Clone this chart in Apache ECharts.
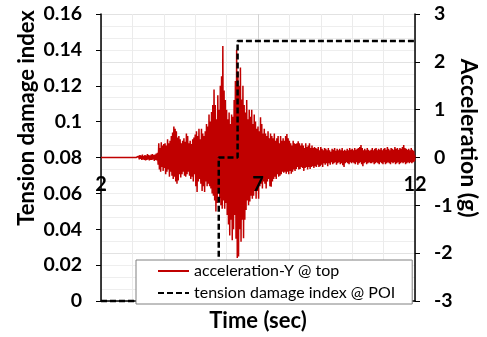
<!DOCTYPE html>
<html>
<head>
<meta charset="utf-8">
<script src="https://cdn.jsdelivr.net/npm/echarts@6/dist/echarts.min.js"></script>
<style>html,body{margin:0;padding:0;background:#fff;}#c{width:487px;height:337px;}</style>
</head>
<body>
<div id="c"></div>
<script>
// ---- data ----
const seriesNames = ['acceleration-Y @ top', 'tension damage index @ POI'];
const xTicks = [2, 7, 12];
const leftTicks = [0, 0.02, 0.04, 0.06, 0.08, 0.1, 0.12, 0.14, 0.16];
const rightTicks = [-3, -2, -1, 0, 1, 2, 3];
const accStart = 2;      // sec
const accStep = 0.02;    // sec between samples
const accel = [
0,0,0,0,0,0,0,0,0,0,
0,0,0,0,0,0,0,0,0,0,
0,0,0,0,0,0,0,0,0,0,
0,0,0,0,0,0,0,0,0,0,
0,0,0,0,0,0,0,0,0,0,
0,0,0,0,0,0,0,0,0,0,
.03,-.04,.05,-.03,.04,-.05,.06,-.04,.03,-.05,
.05,-.06,.04,-.05,.07,-.04,.05,-.06,.04,-.05,
.06,-.05,.07,-.04,.05,-.07,.06,-.05,.08,-.06,
.1,-.15,.3,-.25,.2,-.3,.32,-.2,.25,-.28,
.28,-.22,.3,-.35,.25,-.3,.38,-.25,.3,-.4,
.35,-.3,.45,-.38,.52,-.45,.65,-.4,.6,-.5,
.55,-.55,.42,-.48,.45,-.35,.38,-.42,.3,-.35,
.35,-.3,.4,-.38,.33,-.4,.5,-.35,.45,-.3,
.3,-.38,.35,-.45,.28,-.4,.38,-.5,.42,-.35,
.48,-.6,.55,-.72,.45,-.5,.6,-.45,.38,-.55,
.6,-.7,.5,-.6,.45,-.72,.55,-.5,.7,-.6,
.65,-.55,.9,-.6,.75,-.65,.95,-.75,1.1,-.8,
1.42,-.9,1.1,-1.13,.8,-.95,1.3,-.7,1.0,-.85,
1.5,-1.0,1.7,-1.07,2.33,-.9,1.4,-1.07,1.2,-.95,
1.0,-1.2,.8,-1.4,.94,-1.63,.7,-1.3,.9,-1.73,
.85,-1.5,1.2,-1.2,1.6,-1.7,2.25,-2.1,1.8,-2.07,
1.5,-1.5,1.88,-1.76,1.21,-1.3,1.5,-1.69,1.1,-1.3,
.94,-1.1,1.2,-.9,.8,-1.0,1.0,-.92,.85,-.8,
1.0,-.86,.7,-.8,.9,-.7,.75,-.86,.6,-.7,
.65,-.86,.55,-.6,.84,-.55,.7,-.65,.5,-.5,
.6,-.55,.5,-.65,.45,-.5,.55,-.45,.4,-.6,
.5,-.61,.45,-.5,.4,-.45,.5,-.4,.35,-.45,
.4,-.35,.45,-.4,.3,-.38,.45,-.35,.35,-.3,
.4,-.32,.35,-.3,.45,-.34,.49,-.3,.4,-.35,
.35,-.28,.3,-.34,.25,-.3,.35,-.25,.3,-.28,
.28,-.24,.3,-.2,.34,-.25,.3,-.24,.25,-.2,
.3,-.22,.25,-.28,.2,-.22,.3,-.2,.22,-.25,
.25,-.2,.3,-.24,.2,-.2,.25,-.18,.2,-.22,
.22,-.18,.2,-.2,.18,-.15,.22,-.2,.15,-.18,
.22,-.15,.18,-.2,.15,-.12,.2,-.15,.18,-.12,
.15,-.18,.2,-.12,.15,-.15,.12,-.1,.18,-.14,
.16,-.12,.2,-.1,.14,-.15,.18,-.12,.15,-.1,
.18,-.14,.15,-.12,.2,-.16,.14,-.2,.16,-.12,
.14,-.1,.18,-.12,.15,-.14,.2,-.1,.16,-.12,
.18,-.1,.15,-.12,.2,-.14,.16,-.1,.18,-.15,
.2,-.12,.22,-.1,.26,-.14,.2,-.18,.15,-.12,
.18,-.1,.15,-.14,.2,-.12,.16,-.1,.14,-.12,
.16,-.12,.2,-.1,.15,-.14,.18,-.12,.2,-.1,
.15,-.12,.18,-.14,.16,-.1,.2,-.12,.15,-.14,
.18,-.1,.2,-.14,.16,-.12,.22,-.1,.18,-.12,
.15,-.14,.2,-.1,.18,-.12,.16,-.1,.22,-.14,
.18,-.12,.2,-.1,.16,-.14,.2,-.12,.18,-.1,
.22,-.12,.26,-.1,.2,-.14,.18,-.12,.16,-.1,
.18,-.12,.15,-.1,.2,-.12,.16,-.1,.14,-.08,
.05
];
const damageT = [2, 5.75, 5.75, 6.35, 6.35, 12];
const damageV = [0, 0, 0.08, 0.08, 0.145, 0.145];

// ---- build ----
const accData = accel.map((v, i) => [+(accStart + i * accStep).toFixed(2), v]);
const dmgData = damageT.map((t, i) => [t, damageV[i]]);
const FONT = 'Lato';
const GRID = {left: 101, right: 72, top: 14, bottom: 34};
const plotH = 337 - GRID.top - GRID.bottom;
const zeroFrac = (0 - rightTicks[0]) / (rightTicks[rightTicks.length - 1] - rightTicks[0]);

const chart = echarts.init(document.getElementById('c'), null, {renderer: 'canvas'});
chart.setOption({
  animation: false,
  backgroundColor: '#fff',
  grid: Object.assign({containLabel: false}, GRID),
  legend: {
    orient: 'vertical', left: 136, top: 260,
    itemWidth: 31, itemHeight: 14, itemGap: 6,
    padding: [3, 17, 3, 21],
    borderColor: '#808080', borderWidth: 1, backgroundColor: '#fff',
    itemStyle: {opacity: 0},
    textStyle: {fontFamily: FONT, fontSize: 16, color: '#000'},
    data: seriesNames
  },
  xAxis: [{
    type: 'value', position: 'bottom',
    min: xTicks[0], max: xTicks[xTicks.length - 1], interval: xTicks[1] - xTicks[0],
    name: 'Time (sec)', nameLocation: 'middle', nameGap: 9,
    nameTextStyle: {fontFamily: FONT, fontWeight: 'bold', fontSize: 22, color: '#000'},
    axisLine: {show: true, onZero: false, lineStyle: {color: '#000', width: 1.5}},
    axisTick: {show: false}, axisLabel: {show: false},
    splitLine: {show: true, lineStyle: {color: '#d4d4d4', width: 1}},
    minorTick: {show: false, splitNumber: 5},
    minorSplitLine: {show: true, lineStyle: {color: '#ebebeb', width: 1}}
  }, {
    type: 'value', position: 'bottom', z: 10,
    offset: -plotH * zeroFrac,
    min: xTicks[0], max: xTicks[xTicks.length - 1], interval: xTicks[1] - xTicks[0],
    axisLine: {show: false, onZero: false},
    axisTick: {show: false},
    axisLabel: {show: true, margin: 18, fontFamily: FONT, fontWeight: 'bold', fontSize: 20, color: '#000'},
    splitLine: {show: false}
  }],
  yAxis: [{
    type: 'value', position: 'left',
    min: leftTicks[0], max: leftTicks[leftTicks.length - 1], interval: leftTicks[1] - leftTicks[0],
    axisLine: {show: true, lineStyle: {color: '#000', width: 1.5}},
    axisTick: {show: true, inside: false, length: 5, lineStyle: {color: '#000'}},
    axisLabel: {margin: 19, fontFamily: FONT, fontWeight: 'bold', fontSize: 19.5, color: '#000'},
    splitLine: {show: true, lineStyle: {color: '#d9d9d9', width: 1}}
  }, {
    type: 'value', position: 'right',
    min: rightTicks[0], max: rightTicks[rightTicks.length - 1], interval: rightTicks[1] - rightTicks[0],
    axisLine: {show: true, onZero: false, lineStyle: {color: '#000', width: 1.5}},
    axisTick: {show: true, inside: false, length: 5, lineStyle: {color: '#000'}},
    axisLabel: {margin: 19, fontFamily: FONT, fontWeight: 'bold', fontSize: 19.5, color: '#000'},
    splitLine: {show: true, lineStyle: {color: '#e2e2e2', width: 1}},
    minorTick: {show: false, splitNumber: 4},
    minorSplitLine: {show: true, lineStyle: {color: '#eeeeee', width: 1}}
  }],
  graphic: [{
    type: 'text', x: 27, y: 118, rotation: Math.PI / 2,
    style: {text: 'Tension damage index', align: 'center', verticalAlign: 'middle',
      font: 'bold 22px ' + FONT, fill: '#000'}
  }, {
    type: 'text', x: 468, y: 138, rotation: -Math.PI / 2,
    style: {text: 'Acceleration (g)', align: 'center', verticalAlign: 'middle',
      font: 'bold 23px ' + FONT, fill: '#000'}
  }],
  series: [{
    name: seriesNames[0], type: 'line', xAxisIndex: 0, yAxisIndex: 1,
    data: accData, symbol: 'none', showSymbol: false,
    lineStyle: {color: '#c00000', width: 1.5}, itemStyle: {color: '#c00000'}, z: 2
  }, {
    name: seriesNames[1], type: 'line', xAxisIndex: 0, yAxisIndex: 0,
    data: dmgData, symbol: 'none', showSymbol: false, clip: false,
    lineStyle: {color: '#000', width: 2.5, type: [6, 3]}, itemStyle: {color: '#000'}, z: 3
  }]
});
</script>
</body>
</html>
